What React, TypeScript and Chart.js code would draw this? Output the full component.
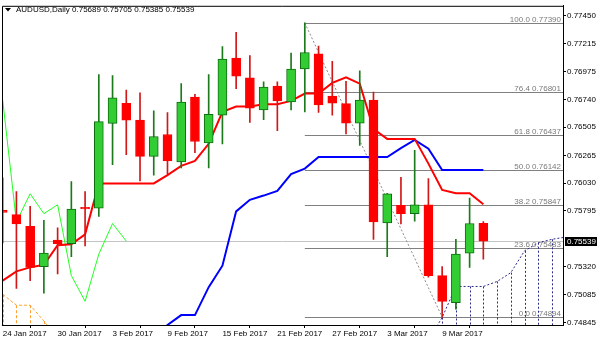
import React, { useEffect, useRef } from 'react';
import { Chart, registerables } from 'chart.js';

Chart.register(...registerables);

// ---- data (AUDUSD daily, Jan 24 .. Mar 14 2017) ----
const xTickIdx = [0, 4, 8, 12, 16, 20, 24, 28, 32];
const xTickLabels = ['24 Jan 2017', '30 Jan 2017', '3 Feb 2017', '9 Feb 2017', '15 Feb 2017', '21 Feb 2017', '27 Feb 2017', '3 Mar 2017', '9 Mar 2017'];

const opens = [0.75800, 0.75763, 0.75665, 0.75322, 0.75548, 0.75517, 0.75825, 0.75819, 0.76537, 0.76708, 0.76565, 0.76258, 0.76443, 0.76210, 0.76761, 0.76372, 0.76607, 0.77091, 0.76923, 0.76652, 0.76853, 0.76719, 0.76999, 0.77127, 0.76770, 0.76705, 0.76540, 0.76736, 0.75693, 0.75842, 0.75772, 0.75847, 0.75246, 0.75017, 0.75437, 0.75689];
const highs = [0.76076, 0.75959, 0.75833, 0.75716, 0.75651, 0.76043, 0.75959, 0.76951, 0.76942, 0.76820, 0.76797, 0.76644, 0.76630, 0.76875, 0.76783, 0.76951, 0.77189, 0.77309, 0.77113, 0.76890, 0.76890, 0.77133, 0.77390, 0.77194, 0.77063, 0.76895, 0.76984, 0.76803, 0.75945, 0.76079, 0.76309, 0.76070, 0.75322, 0.75554, 0.75903, 0.75705];
const lows = [0.75523, 0.75137, 0.75204, 0.75098, 0.75261, 0.75406, 0.75498, 0.75749, 0.76188, 0.76272, 0.76049, 0.76099, 0.76107, 0.76160, 0.76288, 0.76160, 0.76364, 0.76833, 0.76546, 0.76568, 0.76476, 0.76652, 0.76635, 0.76630, 0.76607, 0.76448, 0.76350, 0.75554, 0.75406, 0.75685, 0.75707, 0.75232, 0.74894, 0.74961, 0.75316, 0.75385];
const closes = [0.75783, 0.75685, 0.75316, 0.75437, 0.75517, 0.75811, 0.75812, 0.76552, 0.76755, 0.76565, 0.76258, 0.76426, 0.76219, 0.76719, 0.76384, 0.76615, 0.77082, 0.76937, 0.76666, 0.76845, 0.76728, 0.76999, 0.77139, 0.76694, 0.76708, 0.76540, 0.76736, 0.75702, 0.75940, 0.75772, 0.75847, 0.75246, 0.75028, 0.75428, 0.75688, 0.75539];

// Ichimoku lines
const tenkan = [0.75204, 0.75282, 0.75316, 0.75338, 0.75504, 0.75512, 0.75596, 0.76028, 0.76028, 0.76028, 0.76028, 0.76028, 0.76099, 0.76177, 0.76219, 0.76364, 0.76635, 0.76680, 0.76680, 0.76699, 0.76699, 0.76728, 0.76791, 0.76791, 0.76881, 0.76929, 0.76875, 0.76490, 0.76406, 0.76406, 0.76406, 0.76196, 0.75973, 0.75945, 0.75945, 0.75852];
const kijunStart = 11;
const kijun = [0.74700, 0.74827, 0.74911, 0.74911, 0.75148, 0.75330, 0.75791, 0.75889, 0.75925, 0.75965, 0.76107, 0.76154, 0.76252, 0.76252, 0.76252, 0.76252, 0.76252, 0.76252, 0.76328, 0.76397, 0.76322, 0.76142, 0.76142, 0.76142, 0.76142];
const chikouStart = 0;
const chikou = [0.76736, 0.75702, 0.75940, 0.75772, 0.75847, 0.75246, 0.75028, 0.75428, 0.75688, 0.75539];
const spanLeftStart = 0;
const spanLeft = [0.75087, 0.74995, 0.74995, 0.74861, 0.74700];
const spanRightStart = 31;
const spanRight = [0.74700, 0.74890, 0.75154, 0.75154, 0.75154, 0.75196, 0.75271, 0.75456, 0.75525, 0.75554, 0.75573];
const spanFloor = 0.7470;

// Fibonacci retracement
const fibStartIdx = 22;
const fibEndIdx = 32;
const fibLevels = [100.0, 76.4, 61.8, 50.0, 38.2, 23.6, 0.0];
const fibPrices = [0.77390, 0.76801, 0.76437, 0.76142, 0.75847, 0.75483, 0.74894];

// price axis
const yTicks = [0.77450, 0.77215, 0.76975, 0.76740, 0.76505, 0.76265, 0.76030, 0.75795, 0.75320, 0.75085, 0.74845];
const yMin = 0.74827;
const yMax = 0.77535;
const xMin = -0.05;
const xMax = 40.8;

const symbolText = 'AUDUSD,Daily';
const ohlcText = ['0.75689', '0.75705', '0.75385', '0.75539'];
const bidPrice = 0.75539;

const FONT = '8px "Liberation Sans", Arial, sans-serif';

export default function App() {
  const ref = useRef<HTMLCanvasElement>(null);

  useEffect(() => {
    document.body.style.margin = '0';
    const canvas = ref.current;
    if (!canvas) return;

    const idx = opens.map((_, i) => i);
    const bull = idx.map((i) => closes[i] >= opens[i]);
    const GREEN_FILL = '#32cd32';
    const GREEN_EDGE = '#0f6e0f';
    const GREEN_WICK = '#1c7a1c';
    const RED_FILL = '#ff0000';
    const RED_WICK = '#d01818';

    const seg = (start: number, vals: number[]) => vals.map((v, k) => ({ x: start + k, y: v }));

    const overlay = {
      id: 'overlay',
      beforeDatasetsDraw(chart: any) {
        const { ctx, chartArea: a, scales } = chart;
        const xs = scales.x;
        const ys = scales.y;
        ctx.save();
        ctx.beginPath();
        ctx.rect(a.left, a.top, a.right - a.left, a.bottom - a.top);
        ctx.clip();
        ctx.lineWidth = 1;
        // bid line
        ctx.strokeStyle = '#c4c4c4';
        let y = Math.round(ys.getPixelForValue(bidPrice)) + 0.5;
        ctx.beginPath();
        ctx.moveTo(a.left, y);
        ctx.lineTo(a.right, y);
        ctx.stroke();
        // fib levels
        ctx.strokeStyle = '#808080';
        const fx = xs.getPixelForValue(fibStartIdx);
        fibPrices.forEach((p) => {
          const yy = Math.round(ys.getPixelForValue(p)) + 0.5;
          ctx.beginPath();
          ctx.moveTo(fx, yy);
          ctx.lineTo(a.right, yy);
          ctx.stroke();
        });
        // fib trend line
        ctx.setLineDash([2, 2]);
        ctx.strokeStyle = '#8a8a8a';
        ctx.beginPath();
        ctx.moveTo(fx, ys.getPixelForValue(fibPrices[0]));
        ctx.lineTo(xs.getPixelForValue(fibEndIdx), ys.getPixelForValue(fibPrices[fibPrices.length - 1]));
        ctx.stroke();
        // cloud histogram verticals
        const drawVerticals = (start: number, vals: number[], color: string, dash: number[]) => {
          ctx.strokeStyle = color;
          ctx.setLineDash(dash);
          vals.forEach((v, k) => {
            const x = Math.round(xs.getPixelForValue(start + k)) + 0.5;
            ctx.beginPath();
            ctx.moveTo(x, ys.getPixelForValue(v));
            ctx.lineTo(x, ys.getPixelForValue(spanFloor));
            ctx.stroke();
          });
        };
        drawVerticals(spanLeftStart, spanLeft, '#ffa030', [3, 2]);
        drawVerticals(spanRightStart, spanRight, '#2a2a8a', [2, 2]);
        ctx.restore();
      },
      afterDatasetsDraw(chart: any) {
        const { ctx, chartArea: a, scales } = chart;
        const ys = scales.y;
        ctx.save();
        ctx.font = FONT;
        ctx.fillStyle = '#7a7a7a';
        ctx.textAlign = 'right';
        ctx.textBaseline = 'alphabetic';
        fibLevels.forEach((lv, k) => {
          const yy = Math.round(ys.getPixelForValue(fibPrices[k]));
          ctx.fillText(lv.toFixed(1) + ' ' + fibPrices[k].toFixed(5), a.right - 2, yy - 1);
        });
        ctx.restore();
      },
      afterDraw(chart: any) {
        const { ctx, chartArea: a, scales } = chart;
        const ys = scales.y;
        ctx.save();
        // frame
        ctx.strokeStyle = '#000';
        ctx.lineWidth = 1;
        ctx.beginPath();
        ctx.moveTo(a.left + 0.5, a.bottom);
        ctx.lineTo(a.left + 0.5, a.top + 0.5);
        ctx.lineTo(a.right, a.top + 0.5);
        ctx.stroke();
        // header
        ctx.fillStyle = '#000';
        ctx.beginPath();
        ctx.moveTo(5, 8);
        ctx.lineTo(11, 8);
        ctx.lineTo(8, 11.5);
        ctx.closePath();
        ctx.fill();
        ctx.font = FONT;
        ctx.textAlign = 'left';
        ctx.textBaseline = 'alphabetic';
        ctx.fillText(symbolText + ' ' + ohlcText.join(' '), 16, 12);
        // bid price box
        const by = Math.round(ys.getPixelForValue(bidPrice));
        ctx.fillStyle = '#000';
        ctx.fillRect(a.right + 2, by - 4, 32, 9);
        ctx.fillStyle = '#fff';
        ctx.textBaseline = 'middle';
        ctx.fillText(bidPrice.toFixed(5), a.right + 4, by + 0.5);
        ctx.restore();
      },
    };

    const chart = new Chart(canvas, {
      type: 'bar',
      data: {
        datasets: [
          {
            type: 'bar',
            label: 'body',
            data: idx.map((i) => ({ x: i, y: [opens[i], closes[i]] })) as any,
            backgroundColor: idx.map((i) => (bull[i] ? GREEN_FILL : RED_FILL)),
            borderColor: idx.map((i) => (bull[i] ? GREEN_EDGE : RED_FILL)),
            borderWidth: 1,
            borderSkipped: false,
            barThickness: 9,
            grouped: false,
            order: 0,
          } as any,
          {
            type: 'bar',
            label: 'wick',
            data: idx.map((i) => ({ x: i, y: [lows[i], highs[i]] })) as any,
            backgroundColor: idx.map((i) => (bull[i] ? GREEN_WICK : RED_WICK)),
            borderWidth: 0,
            barThickness: 1,
            grouped: false,
            order: 1,
          } as any,
          {
            type: 'line',
            label: 'tenkan',
            data: seg(0, tenkan) as any,
            borderColor: '#ff0000',
            borderWidth: 2,
            pointRadius: 0,
            order: 5,
          } as any,
          {
            type: 'line',
            label: 'kijun',
            data: seg(kijunStart, kijun) as any,
            borderColor: '#0000ff',
            borderWidth: 2,
            pointRadius: 0,
            order: 5,
          } as any,
          {
            type: 'line',
            label: 'chikou',
            data: seg(chikouStart, chikou) as any,
            borderColor: '#22ff22',
            borderWidth: 1,
            pointRadius: 0,
            order: 6,
          } as any,
          {
            type: 'line',
            label: 'spanA',
            data: seg(spanLeftStart, spanLeft) as any,
            borderColor: '#ffa030',
            borderWidth: 1,
            borderDash: [3, 2],
            pointRadius: 0,
            order: 7,
          } as any,
          {
            type: 'line',
            label: 'spanB',
            data: seg(spanRightStart, spanRight) as any,
            borderColor: '#2a2a8a',
            borderWidth: 1,
            borderDash: [2, 2],
            pointRadius: 0,
            order: 7,
          } as any,
        ],
      },
      options: {
        responsive: false,
        animation: false,
        events: [],
        layout: { padding: { left: 2, top: 2, right: 0, bottom: 0 } },
        plugins: { legend: { display: false }, tooltip: { enabled: false } },
        scales: {
          x: {
            type: 'linear',
            offset: false,
            min: xMin,
            max: xMax,
            afterBuildTicks: (axis: any) => {
              axis.ticks = xTickIdx.map((v) => ({ value: v }));
            },
            afterFit: (axis: any) => {
              axis.height = 18;
            },
            ticks: {
              autoSkip: false,
              maxRotation: 0,
              align: 'start',
              padding: 1,
              color: '#000',
              font: { family: '"Liberation Sans", Arial, sans-serif', size: 8 },
              callback: (v: any) => {
                const k = xTickIdx.indexOf(Number(v));
                return k >= 0 ? xTickLabels[k] : '';
              },
            },
            grid: { drawOnChartArea: false, drawTicks: true, tickLength: 3, color: '#000' },
            border: { display: true, color: '#000' },
          },
          y: {
            type: 'linear',
            position: 'right',
            min: yMin,
            max: yMax,
            afterBuildTicks: (axis: any) => {
              axis.ticks = yTicks.map((v) => ({ value: v }));
            },
            afterFit: (axis: any) => {
              axis.width = 37;
            },
            ticks: {
              padding: 1,
              color: '#000',
              font: { family: '"Liberation Sans", Arial, sans-serif', size: 8 },
              callback: (v: any) => Number(v).toFixed(5),
            },
            grid: { drawOnChartArea: false, drawTicks: true, tickLength: 3, color: '#000' },
            border: { display: true, color: '#000' },
          },
        },
      } as any,
      plugins: [overlay],
    });

    return () => chart.destroy();
  }, []);

  return (
    <div style={{ width: 600, height: 343, background: '#fff' }}>
      <canvas ref={ref} width={600} height={343} style={{ display: 'block' }} />
    </div>
  );
}
